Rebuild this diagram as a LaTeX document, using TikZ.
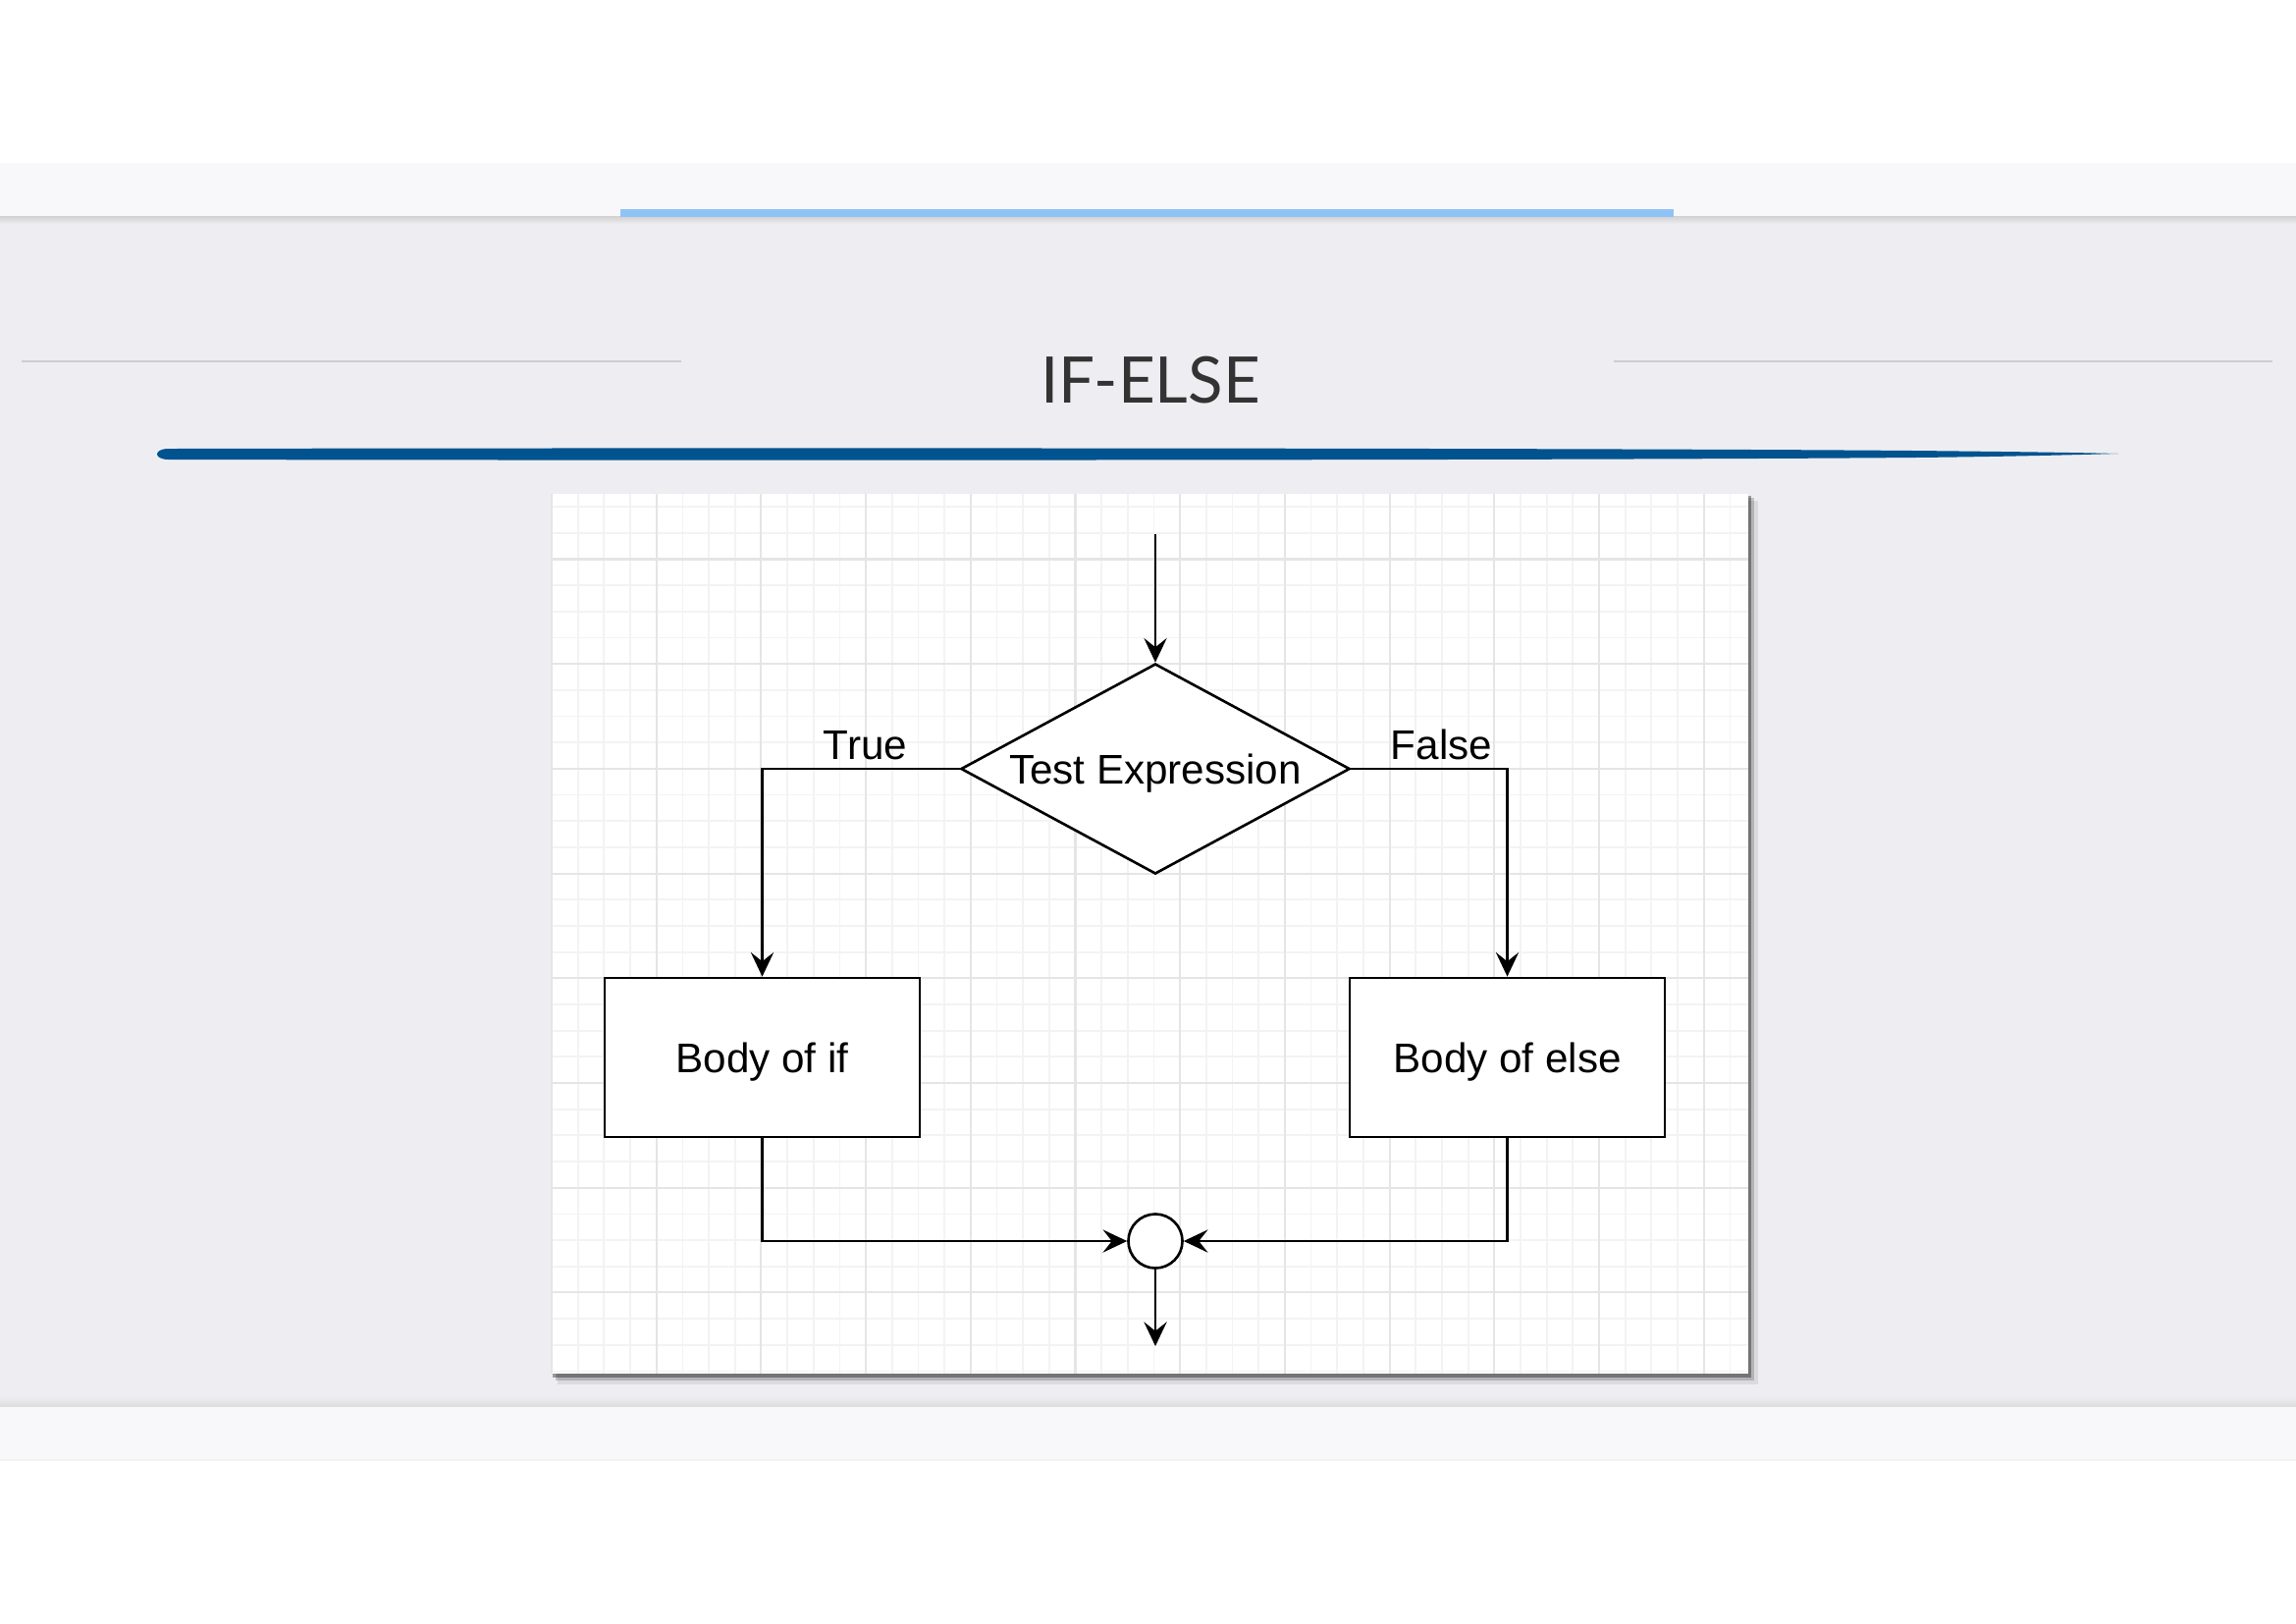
\documentclass[tikz,border=0pt]{standalone}
\usepackage{fontspec}
\setmainfont{Liberation Sans}
\newfontfamily\titlefont{Lato}
\usetikzlibrary{arrows.meta,shapes.geometric}
\definecolor{bggray}{HTML}{EEEEF2}
\definecolor{stripcol}{HTML}{F8F8FA}
\definecolor{lightblue}{HTML}{8FC3F7}
\definecolor{brushblue}{HTML}{00538F}
\definecolor{titlecol}{HTML}{333333}
\definecolor{sepgray}{HTML}{CDCDD2}
\definecolor{gridmin}{HTML}{F3F3F3}
\definecolor{gridmaj}{HTML}{E5E5E5}
\tikzset{
  flow/.style={draw=black,line width=0.75pt,fill=white,font=\fontsize{12}{14}\selectfont,inner sep=0pt,text height=8.6pt,text depth=0pt},
  boxnode/.style={flow,rectangle,minimum width=3.21cm,minimum height=1.62cm},
  decision/.style={flow,diamond,aspect=2,minimum width=3.96cm,minimum height=2.14cm},
  joinnode/.style={flow,circle,minimum size=0.55cm},
  lbl/.style={font=\fontsize{12}{14}\selectfont,inner sep=0pt,anchor=base},
  arr/.style={line width=0.75pt,-{Stealth[length=7pt,width=6.6pt,inset=2.6pt]}},
  gridminor/.style={draw=gridmin,line width=0.5pt},
  gridmajor/.style={draw=gridmaj,line width=0.6pt}
}
\begin{document}
\begin{tikzpicture}[x=0.01cm,y=-0.01cm]
\useasboundingbox (0,0) rectangle (2339,1653);
% page backgrounds
\fill[white] (0,0) rectangle (2339,1653);
\fill[bggray] (0,220) rectangle (2339,1433);
\fill[stripcol] (0,166) rectangle (2339,220);
\shade[top color=black!18,bottom color=bggray] (0,220) rectangle (2339,228);
\fill[lightblue] (632,213) rectangle (1705,221);
\shade[top color=bggray,bottom color=black!14] (0,1422) rectangle (2339,1433);
\fill[stripcol] (0,1433) rectangle (2339,1487);
\draw[black!5,line width=0.5pt] (0,1487) -- (2339,1487);
% title area
\draw[sepgray,line width=0.8pt] (22,368) -- (694,368);
\draw[sepgray,line width=0.8pt] (1644,368) -- (2315,368);
\node[font=\titlefont\fontsize{18.6}{20}\selectfont,text=titlecol,inner sep=0pt] (title) at (1172,387) {IF-ELSE};
\fill[brushblue] (172,457) .. controls (600,456) and (1600,456) .. (1950,459)
  .. controls (2050,460) and (2120,461) .. (2158,462)
  .. controls (2120,463) and (2050,465) .. (1950,466)
  .. controls (1600,469) and (600,469) .. (172,468)
  .. controls (156,468) and (156,457) .. (172,457) -- cycle;
% panel shadow
\fill[black,opacity=0.08] (568,510) rectangle (1791,1410);
\fill[black,opacity=0.18] (566,507) rectangle (1787,1406);
\fill[black,opacity=0.35] (563,505) rectangle (1784,1403);
\fill[white] (561,503) rectangle (1781,1399);
% grid
\foreach \i in {0,...,45} {\draw[gridminor] ({562+26.675*\i},503) -- ({562+26.675*\i},1399);}
\foreach \j in {0,...,33} {\draw[gridminor] (561,{516.15+26.675*\j}) -- (1781,{516.15+26.675*\j});}
\foreach \i in {0,...,11} {\draw[gridmajor] ({562+106.7*\i},503) -- ({562+106.7*\i},1399);}
\foreach \j in {0,...,7} {\draw[gridmajor] (561,{569.5+106.7*\j}) -- (1781,{569.5+106.7*\j});}
% flowchart
\coordinate (start) at (1177,544);
\node[decision] (test) at (1177,783) {Test Expression};
\node[boxnode] (bif) at (776.5,1077) {Body of if};
\node[boxnode] (belse) at (1535.5,1077) {Body of else};
\node[joinnode] (join) at (1177,1264) {};
\coordinate (end) at (1177,1371);
\node[lbl] (ltrue) at (881.5,773) {True};
\node[lbl] (lfalse) at (1468.5,773) {False};
\draw[arr] (start) -- (test.north);
\draw[arr] (test.west) -| (bif.north);
\draw[arr] (test.east) -| (belse.north);
\draw[arr] (bif.south) |- (join.west);
\draw[arr] (belse.south) |- (join.east);
\draw[arr] (join.south) -- (end);
\end{tikzpicture}
\end{document}
